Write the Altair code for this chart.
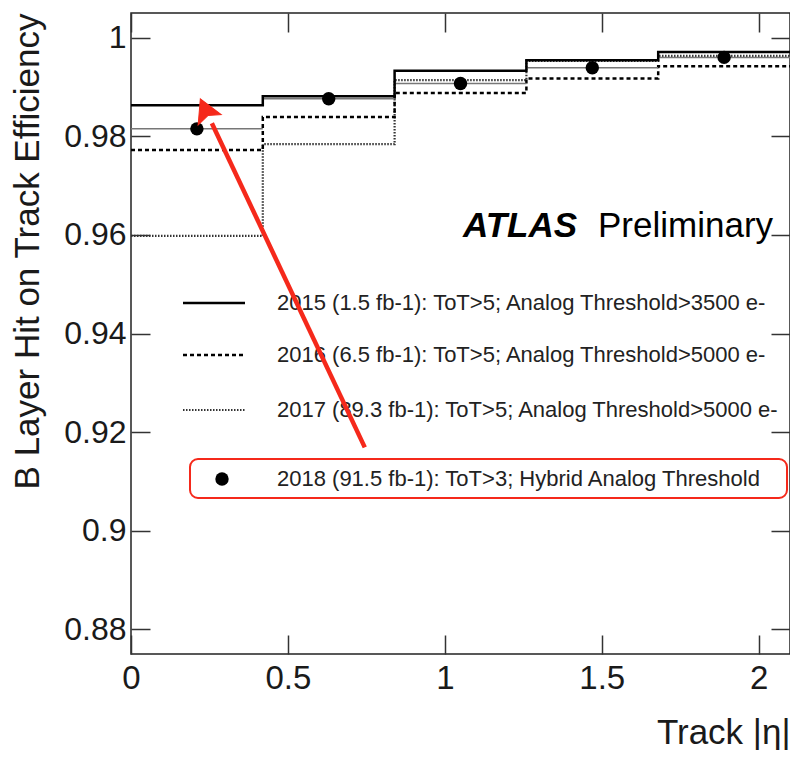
import altair as alt
import pandas as pd

# ---------------- data ----------------
bin_edges = [0.0, 0.42, 0.84, 1.26, 1.68, 2.1]
eff_2015 = [0.9863, 0.9881, 0.9933, 0.9954, 0.9971]
eff_2016 = [0.9772, 0.9839, 0.9888, 0.9917, 0.9942]
eff_2017 = [0.9598, 0.9784, 0.9914, 0.9953, 0.9963]
eff_2018 = [0.9815, 0.9876, 0.9907, 0.9939, 0.9960]

series_labels = [
    "2015 (1.5 fb-1): ToT>5; Analog Threshold>3500 e-",
    "2016 (6.5 fb-1): ToT>5; Analog Threshold>5000 e-",
    "2017 (89.3 fb-1): ToT>5; Analog Threshold>5000 e-",
    "2018 (91.5 fb-1): ToT>3; Hybrid Analog Threshold",
]
x_ticks = [0, 0.5, 1, 1.5, 2]
y_ticks = [0.88, 0.9, 0.92, 0.94, 0.96, 0.98, 1.0]
x_title = "Track |η|"
y_title = "B Layer Hit on Track Efficiency"
atlas_text = ["ATLAS", "Preliminary"]
# annotation arrow (data coordinates): tail, tip
arrow_eta = [0.745, 0.221]
arrow_eff = [0.9169, 0.9876]

# ---------------- layout / style ----------------
W, H = 659, 641
FONT = "Liberation Sans"
TXT = "#1a1a1a"
RED = "#f5291b"
LEG_FS = 22

xs = alt.Scale(domain=[0, 2.1], nice=False, zero=False)
ys = alt.Scale(domain=[0.875, 1.005], nice=False, zero=False)


def step_df(vals):
    return pd.DataFrame({"eta": bin_edges, "eff": vals + [vals[-1]]})


Xn = alt.X("eta:Q", scale=xs, axis=None)
Yn = alt.Y("eff:Q", scale=ys, axis=None)

base_df = step_df(eff_2015)

# main axes: labels and titles only
axis_main = alt.Chart(base_df).mark_point(opacity=0).encode(
    x=alt.X("eta:Q", scale=xs, axis=alt.Axis(
        orient="bottom", values=x_ticks, format="~g", grid=False, domain=False,
        ticks=False, labelFont=FONT, labelFontSize=33, labelColor=TXT,
        labelPadding=8, labelFlush=False,
        title=x_title, titleFont=FONT, titleFontSize=35, titleFontWeight="normal",
        titleColor=TXT, titleX=W, titleY=89, titleAlign="right",
        titleBaseline="alphabetic", titleAnchor="end")),
    y=alt.Y("eff:Q", scale=ys, axis=alt.Axis(
        orient="left", values=y_ticks, format="~g", grid=False, domain=False,
        ticks=False, labelFont=FONT, labelFontSize=32, labelColor=TXT,
        labelPadding=5, labelFlush=False,
        title=y_title, titleFont=FONT, titleFontSize=35, titleFontWeight="normal",
        titleColor=TXT, titleAngle=270, titleX=-93, titleY=0,
        titleAlign="right", titleBaseline="alphabetic", titleAnchor="end")),
)

tick_style = dict(labels=False, domain=False, grid=False, ticks=True,
                  tickSize=19, tickWidth=1.5, tickColor="#333", title="")

# inward ticks: bottom (pointing up) and left (pointing right)
ticks_a = alt.Chart(base_df).mark_point(opacity=0).encode(
    x=alt.X("eta:Q", scale=xs, axis=alt.Axis(orient="top", offset=-H,
                                             values=x_ticks, **tick_style)),
    y=alt.Y("eff:Q", scale=ys, axis=alt.Axis(orient="right", offset=-W,
                                             values=y_ticks, **tick_style)),
)
# inward ticks: top (pointing down) and right (pointing left)
ticks_b = alt.Chart(base_df).mark_point(opacity=0).encode(
    x=alt.X("eta:Q", scale=xs, axis=alt.Axis(orient="bottom", offset=-H,
                                             values=x_ticks, **tick_style)),
    y=alt.Y("eff:Q", scale=ys, axis=alt.Axis(orient="left", offset=-W,
                                             values=y_ticks, **tick_style)),
)

DOT = [1.5, 1.5]
l2015 = alt.Chart(step_df(eff_2015)).mark_line(
    interpolate="step-after", color="#000", strokeWidth=2.5, clip=True
).encode(x=Xn, y=Yn)
l2016 = alt.Chart(step_df(eff_2016)).mark_line(
    interpolate="step-after", color="#000", strokeWidth=2.5,
    strokeDash=[4, 3], clip=True
).encode(x=Xn, y=Yn)
l2017 = alt.Chart(step_df(eff_2017)).mark_line(
    interpolate="step-after", color="#333", strokeWidth=2.2,
    strokeDash=DOT, clip=True
).encode(x=Xn, y=Yn)

centers = [(bin_edges[i] + bin_edges[i + 1]) / 2 for i in range(5)]
df18 = pd.DataFrame({"eta": centers, "lo": bin_edges[:-1], "hi": bin_edges[1:],
                     "eff": eff_2018})
err2018 = alt.Chart(df18).mark_rule(color="#777", strokeWidth=1.5).encode(
    x=alt.X("lo:Q", scale=xs, axis=None), x2="hi:Q", y=Yn)
pts2018 = alt.Chart(df18).mark_circle(size=180, color="#000", opacity=1).encode(
    x=Xn, y=Yn)

# ATLAS label
atlas = alt.Chart(pd.DataFrame({"t": [atlas_text[0]]})).mark_text(
    font=FONT, fontSize=35, fontWeight="bold", fontStyle="italic", color="#000",
    align="left", baseline="alphabetic"
).encode(x=alt.value(332), y=alt.value(224), text="t:N")
prelim = alt.Chart(pd.DataFrame({"t": [atlas_text[1]]})).mark_text(
    font=FONT, fontSize=35, color="#000", align="left", baseline="alphabetic"
).encode(x=alt.value(467), y=alt.value(224), text="t:N")

# legend (drawn inside the frame)
leg_rows = [290, 342, 397]
leg_styles = [dict(color="#000", strokeWidth=2.5),
              dict(color="#000", strokeWidth=2.5, strokeDash=[4, 3]),
              dict(color="#333", strokeWidth=2.2, strokeDash=DOT)]
legend_layers = []
for lab, yy, st in zip(series_labels[:3], leg_rows, leg_styles):
    d = pd.DataFrame({"t": [lab]})
    legend_layers.append(alt.Chart(d).mark_rule(**st).encode(
        x=alt.value(52), x2=alt.value(114), y=alt.value(yy)))
    legend_layers.append(alt.Chart(d).mark_text(
        font=FONT, fontSize=LEG_FS, color="#222", align="left", baseline="middle"
    ).encode(x=alt.value(146), y=alt.value(yy), text="t:N"))

d18 = pd.DataFrame({"t": [series_labels[3]]})
legend_layers.append(alt.Chart(d18).mark_rect(
    fillOpacity=0, stroke=RED, strokeWidth=2, cornerRadius=8
).encode(x=alt.value(59), x2=alt.value(656), y=alt.value(446), y2=alt.value(485)))
legend_layers.append(alt.Chart(d18).mark_circle(size=180, color="#000", opacity=1).encode(
    x=alt.value(91), y=alt.value(466)))
legend_layers.append(alt.Chart(d18).mark_text(
    font=FONT, fontSize=LEG_FS, color="#222", align="left", baseline="middle"
).encode(x=alt.value(146), y=alt.value(466), text="t:N"))

# red annotation arrow
frac = 0.07
shaft_end_eta = arrow_eta[1] + frac * (arrow_eta[0] - arrow_eta[1])
shaft_end_eff = arrow_eff[1] + frac * (arrow_eff[0] - arrow_eff[1])
arrow_df = pd.DataFrame({"eta": [arrow_eta[0]], "eff": [arrow_eff[0]],
                         "eta2": [shaft_end_eta], "eff2": [shaft_end_eff]})
arrow_line = alt.Chart(arrow_df).mark_rule(color=RED, strokeWidth=4.5).encode(
    x=Xn, y=Yn, x2="eta2:Q", y2="eff2:Q")
head_df = pd.DataFrame({"eta": [arrow_eta[1]], "eff": [arrow_eff[1]]})
arrow_head = alt.Chart(head_df).mark_point(
    shape="M0,0 L0.55,1 L0,0.8 L-0.55,1 Z", size=2100, filled=True,
    fill=RED, stroke=RED, strokeWidth=1, opacity=1, angle=336
).encode(x=Xn, y=Yn)

chart = alt.layer(
    axis_main, ticks_a, ticks_b,
    l2017, l2016, err2018, l2015, pts2018,
    atlas, prelim, *legend_layers, arrow_line, arrow_head
).resolve_axis(x="independent", y="independent").properties(
    width=W, height=H,
    autosize=alt.AutoSizeParams(type="none"),
    padding={"left": 123, "top": 5, "right": 0, "bottom": 96},
).configure_view(stroke="#222", strokeWidth=1.5)

chart.save("out.html", embed_options={"renderer": "svg", "actions": False})
